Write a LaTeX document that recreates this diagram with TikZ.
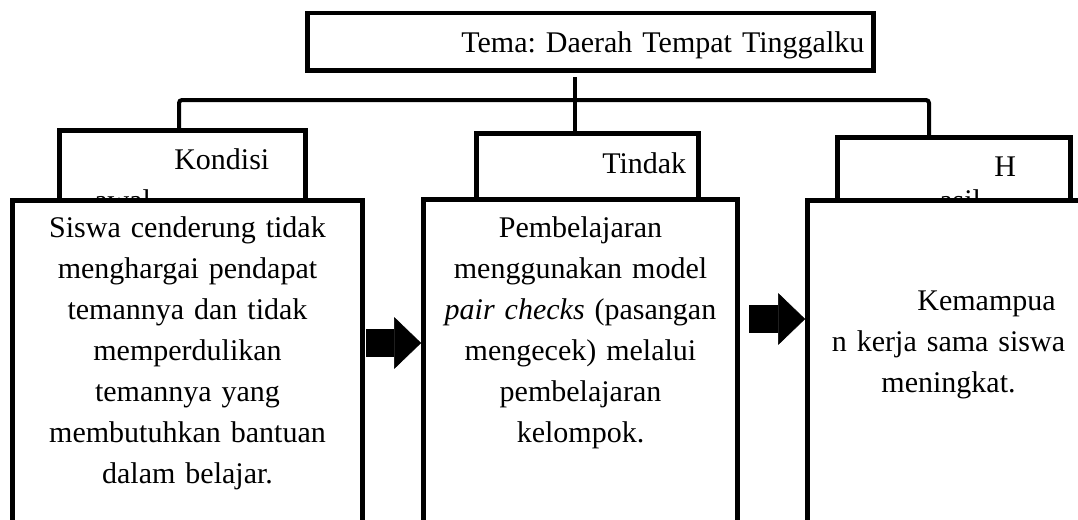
\documentclass[tikz,border=0pt]{standalone}
\usepackage{fontspec}
\setmainfont{Liberation Serif}
\usetikzlibrary{arrows.meta}
\tikzstyle{title box}=[
        draw,
        line width = 4.5pt,
        fill = white,
        anchor = north west,
        align = right,
        inner xsep = 9pt,
        inner ysep = 0pt,
        font = \fontsize{30pt}{41pt}\selectfont\frenchspacing
    ]
\tikzstyle{head box}=[
    draw,
    line width = 4.5pt,
    fill = white,
    anchor = north west,
    align = left,
    inner sep = 0pt,
    text depth = 60pt,
    font = \fontsize{30pt}{41pt}\selectfont\frenchspacing
]
\tikzstyle{body box}=[
    draw,
    line width = 5pt,
    fill = white,
    anchor = north west,
    align = center,
    inner sep = 0pt,
    text depth = 330pt,
    font = \fontsize{30pt}{41pt}\selectfont\frenchspacing
]

\begin{document}
\begin{tikzpicture}[x=1pt, y=-1pt,
        link/.style = {line width=4pt, rounded corners=3pt},
        block arrow/.style = {line width=28pt, -{Triangle[length=27pt, width=52pt, line width=0.5pt, round]}}]
        \useasboundingbox (0,0) rectangle (1078,519);
        \clip (0,0) rectangle (1078,519);

        \node[title box, text width=548pt, text height=39pt, text depth=18pt] (0) at (305,11) {Tema: Daerah Tempat Tinggalku};

        \coordinate (stem) at (575,77);
        \coordinate (left end) at (179,100);
        \coordinate (right end) at (929,100);

        % connectors under the boxes
        \draw[link] (stem) -- (stem |- 0,131);
        \draw[link] (left end |- 0,128) -- (left end) -- (right end) -- (right end |- 0,135);

        \node[head box, text width=246pt, text height=39pt] (1) at (57,128) {\hspace*{115pt}Kondisi\\\hspace*{35pt}awal};
        \node[head box, text width=222pt, text height=40pt] (2) at (474,131) {\hspace*{126pt}Tindak};
        \node[head box, text width=233pt, text height=39pt] (3) at (835,135) {\hspace*{157pt}H\\[-7pt]\hspace*{102pt}asil};

        \node[body box, text width=350pt, text height=37pt] (4) at (10,198) {Siswa cenderung tidak\\menghargai pendapat\\temannya dan tidak\\memperdulikan\\temannya yang\\membutuhkan bantuan\\dalam belajar.};
        \node[body box, text width=314pt, text height=38pt] (5) at (421,197) {Pembelajaran\\menggunakan model\\\textit{pair checks} (pasangan\\mengecek) melalui\\pembelajaran\\kelompok.};
        \node[body box, text width=282pt, text height=110pt] (6) at (805,198) {\hspace*{76pt}Kemampua\\n kerja sama siswa\\meningkat.};

        \coordinate (y1) at (0,343);
        \coordinate (y2) at (0,319);
        \draw[block arrow] ([xshift=1pt]4.east |- y1) -- (5.west |- y1);
        \draw[block arrow] ([xshift=9pt]5.east |- y2) -- (6.west |- y2);

    \end{tikzpicture}
\end{document}
